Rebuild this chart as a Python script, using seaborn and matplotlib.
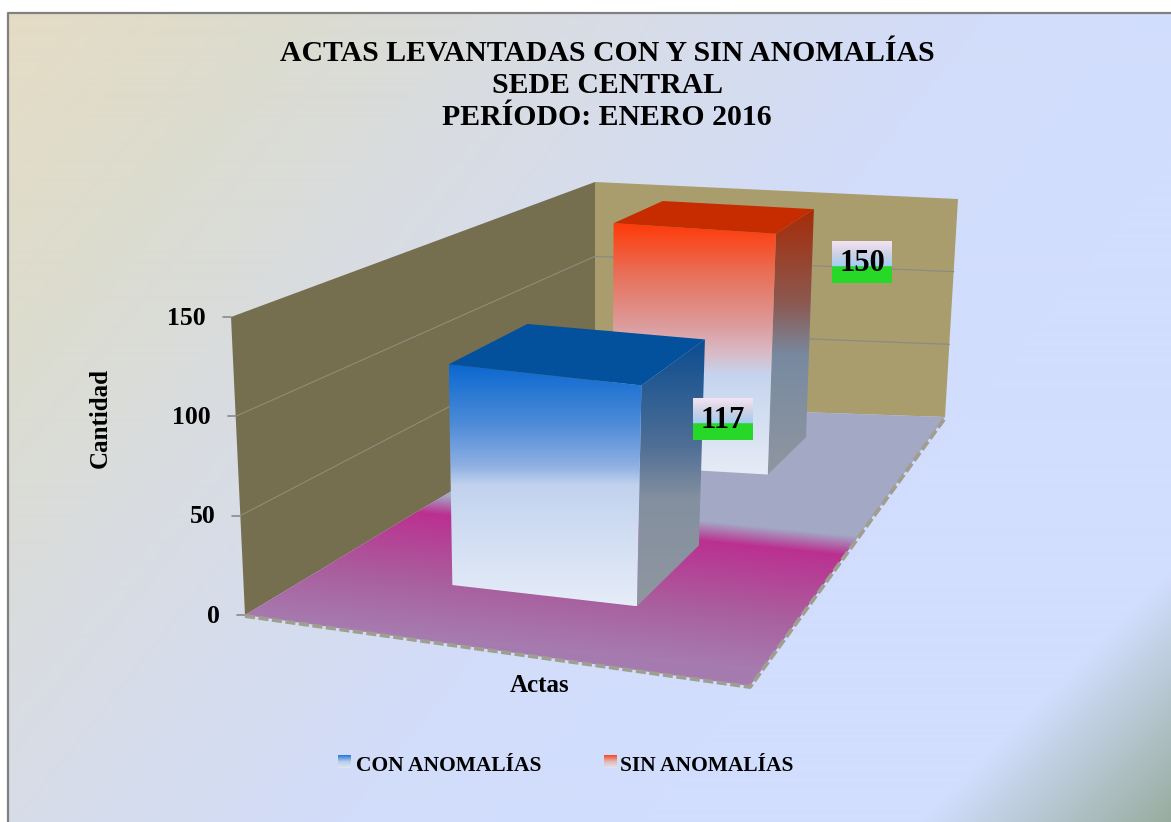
import numpy as np
import pandas as pd
import matplotlib
matplotlib.use('Agg')
import matplotlib.pyplot as plt
from matplotlib.colors import to_rgb
from matplotlib.patches import Polygon
import seaborn as sns

# Datos del grafico
series = ['CON ANOMALÍAS', 'SIN ANOMALÍAS']
cantidad = [117, 150]
y_ticks = [0, 50, 100, 150]
titulo = 'ACTAS LEVANTADAS CON Y SIN ANOMALÍAS\nSEDE CENTRAL\nPERÍODO: ENERO 2016'

W, H = 1171, 822
Y_MAX = 150

# Corners of the 3D box as seen on screen (u across, v into the page)
FLOOR = [(245, 615), (750, 686), (945, 417), (595, 405)]
ROOF = [(231, 317), (768, 386), (958, 199), (595, 182)]
# bar extent across the single category, one pair per bar
U_SPAN = [(0.32, 0.71), (0.305, 0.7025)]

# Face colours: (position from top of the face, colour)
FRONT = [
    [(0, '#0a68d0'), (.25, '#4f8cd8'), (.42, '#8eb0e2'), (.5, '#c2d2ee'), (1, '#e6edf8')],
    [(0, '#ff3a08'), (.2, '#e87058'), (.4, '#dd9a9a'), (.52, '#d8bcc8'), (.6, '#c5d4ee'), (1, '#e6ecf6')],
]
SIDE = [
    [(0, '#0b4c90'), (.4, '#4f6f96'), (.6, '#84909f'), (1, '#8f96a0')],
    [(0, '#a52c08'), (.35, '#8c5850'), (.55, '#788aa0'), (1, '#8f96a0')],
]
TOP = ['#03509c', '#c62c00']
LEGEND_ICON = [[(0, '#1f78d8'), (.5, '#b8cdec'), (1, '#e0e6f2')],
               [(0, '#f8481c'), (.5, '#e0b8b8'), (1, '#dfe6f2')]]
LABEL_OFFSET = [(18, 80), (48, 53)]
LABEL_STOPS = [(0, '#f4e4f3'), (.3, '#cfd2e4'), (.6, '#a2cdf6'), (.61, '#28d828'), (1, '#28d828')]
FLOOR_STOPS = [0, 500, 520, 590, 645, 800]
FLOOR_COLS = ['#a3a9c6', '#a3a9c6', '#bb3090', '#a9609f', '#a67cb0', '#a67cb0']

sns.set_theme(style='white')
plt.rcParams['font.family'] = ['Liberation Serif', 'DejaVu Serif']
plt.rcParams['text.color'] = 'black'
TXT = dict(fontweight='bold', color='black', zorder=8)


def quad_matrix(quad):
    # homography taking the unit square to a screen quad
    (x0, y0), (x1, y1), (x2, y2), (x3, y3) = quad
    dx1, dx2, sx = x1 - x2, x3 - x2, x0 - x1 + x2 - x3
    dy1, dy2, sy = y1 - y2, y3 - y2, y0 - y1 + y2 - y3
    den = dx1 * dy2 - dx2 * dy1
    g = (sx * dy2 - dx2 * sy) / den
    h = (dx1 * sy - sx * dy1) / den
    return np.array([[x1 - x0 + g * x1, x3 - x0 + h * x3, x0],
                     [y1 - y0 + g * y1, y3 - y0 + h * y3, y0],
                     [g, h, 1.0]])


M_FLOOR = quad_matrix(FLOOR)
M_ROOF = quad_matrix(ROOF)


def project(u, v, value):
    t = value / Y_MAX
    a = M_FLOOR @ [u, v, 1]
    b = M_ROOF @ [u, v, 1]
    return (1 - t) * a[:2] / a[2] + t * b[:2] / b[2]


def ramp(stops, n=256):
    pos = [p for p, c in stops]
    cols = np.array([to_rgb(c) for p, c in stops])
    grid = np.linspace(0, 1, n)
    return np.stack([np.interp(grid, pos, cols[:, i]) for i in range(3)], axis=1)[:, None, :]


def fill_face(ax, pts, stops, z):
    pts = np.array(pts)
    x0, y0 = pts.min(axis=0)
    x1, y1 = pts.max(axis=0)
    im = ax.imshow(ramp(stops), extent=(x0, x1, y1, y0), aspect='auto', zorder=z,
                   interpolation='bilinear')
    im.set_clip_path(Polygon(pts, transform=ax.transData))


fig = plt.figure(figsize=(W / 100, H / 100), dpi=100, facecolor='white')

# the bars live in a hidden seaborn axes; their category position becomes the depth
df = pd.DataFrame({'serie': series, 'cantidad': cantidad})
bar_ax = fig.add_axes([0, 0, 1, 1], visible=False)
sns.barplot(data=df, x='serie', y='cantidad', width=0.4, ax=bar_ax)

ax = fig.add_axes([0, 0, 1, 1])
ax.set_axis_off()

# background
xx, yy = np.meshgrid(np.arange(8, W), np.arange(13, H))
d = xx + 0.8 * yy
cols = np.array([to_rgb(c) for c in ['#e6dcc4', '#dcdccf', '#d8dce4', '#d2ddfa', '#d2defe']])
bg = np.stack([np.interp(d, [0, 300, 600, 1000, 1300], cols[:, i]) for i in range(3)], axis=2)
e = np.clip((xx + yy - 1740) / 253, 0, 1)[:, :, None]
bg = bg * (1 - e) + np.array(to_rgb('#98ac9e')) * e
ax.imshow(bg, extent=(8, W, H, 13), aspect='auto', zorder=0)
ax.plot([8, 8, W], [H, 13, 13], color='#808080', lw=1.6, zorder=1)

# walls
back_wall = [project(0, 1, 0), project(1, 1, 0), project(1, 1, Y_MAX), project(0, 1, Y_MAX)]
left_wall = [project(0, 0, 0), project(0, 1, 0), project(0, 1, Y_MAX), project(0, 0, Y_MAX)]
ax.add_patch(Polygon(back_wall, color='#a99d6e', lw=0, zorder=2))
ax.add_patch(Polygon(left_wall, color='#756f50', lw=0, zorder=2))

# floor with its magenta band
fx, fy = np.meshgrid(np.arange(240, 950), np.arange(400, 690))
s = fy - 0.1 * (fx - 500)
cols = np.array([to_rgb(c) for c in FLOOR_COLS])
floor_img = np.stack([np.interp(s, FLOOR_STOPS, cols[:, i]) for i in range(3)], axis=2)
im = ax.imshow(floor_img, extent=(240, 950, 690, 400), aspect='auto', zorder=3)
im.set_clip_path(Polygon(FLOOR, transform=ax.transData))

# dashed rim at the front of the floor
rim = np.array([project(0, 0, 0), project(1, 0, 0), project(1, 1, 0)])
ax.plot(rim[:, 0], rim[:, 1] + 1, color='#a09e91', lw=2.8, ls=(0, (2.6, 0.9)), zorder=4)

# gridlines, ticks and tick labels
for tick in y_ticks:
    a, b, c = project(0, 0, tick), project(0, 1, tick), project(1, 1, tick)
    ax.plot([a[0] - 8, a[0]], [a[1], a[1]], color='#8a8a8a', lw=1.2, zorder=2)
    ax.text(a[0] - 25, a[1] + 1, str(tick), ha='right', va='center', fontsize=18.5, **TXT)
    if 0 < tick < Y_MAX:
        ax.plot([a[0], b[0]], [a[1], b[1]], color='#8f8c78', lw=0.8, zorder=2)
        ax.plot([b[0], c[0]], [b[1], c[1]], color='#8a8c80', lw=0.9, zorder=2)

# bars, blue one in front of the red one
for i, rect in enumerate(bar_ax.patches):
    val = rect.get_height()
    v0 = (rect.get_x() + 0.5) / 2
    v1 = (rect.get_x() + rect.get_width() + 0.5) / 2
    u0, u1 = U_SPAN[i]
    z = 5.5 - i * 0.5
    front = [project(u0, v0, val), project(u1, v0, val), project(u1, v0, 0), project(u0, v0, 0)]
    side = [project(u1, v0, val), project(u1, v1, val), project(u1, v1, 0), project(u1, v0, 0)]
    top = [project(u0, v0, val), project(u1, v0, val), project(u1, v1, val), project(u0, v1, val)]
    fill_face(ax, side, SIDE[i], z)
    fill_face(ax, front, FRONT[i], z)
    ax.add_patch(Polygon(top, color=TOP[i], lw=0, zorder=z))

    # value label hanging off the back corner of the bar
    anchor = project(u1, v1, val)
    cx, cy = anchor[0] + LABEL_OFFSET[i][0], anchor[1] + LABEL_OFFSET[i][1]
    ax.imshow(ramp(LABEL_STOPS), extent=(cx - 30, cx + 30, cy + 21, cy - 21), aspect='auto',
              zorder=7, interpolation='nearest')
    ax.text(cx, cy + 1, f'{val:.0f}', ha='center', va='center', fontsize=22, **TXT)

ax.text(607, 85.5, titulo, ha='center', va='center', fontsize=21.4, linespacing=1.25, **TXT)
ax.text(100, 418, 'Cantidad', rotation=90, ha='center', va='center', fontsize=18, **TXT)
ax.text(540, 685, 'Actas', ha='center', va='center', fontsize=18, **TXT)

# legend
for name, stops, bx, tx in zip(series, LEGEND_ICON, [338, 604], [356, 620]):
    ax.imshow(ramp(stops), extent=(bx, bx + 13, 768, 756), aspect='auto', zorder=7)
    ax.text(tx, 766, name, ha='left', va='center', fontsize=15.5, **TXT)

ax.set_xlim(0, W)
ax.set_ylim(H, 0)
fig.savefig('out.png', dpi=100)
